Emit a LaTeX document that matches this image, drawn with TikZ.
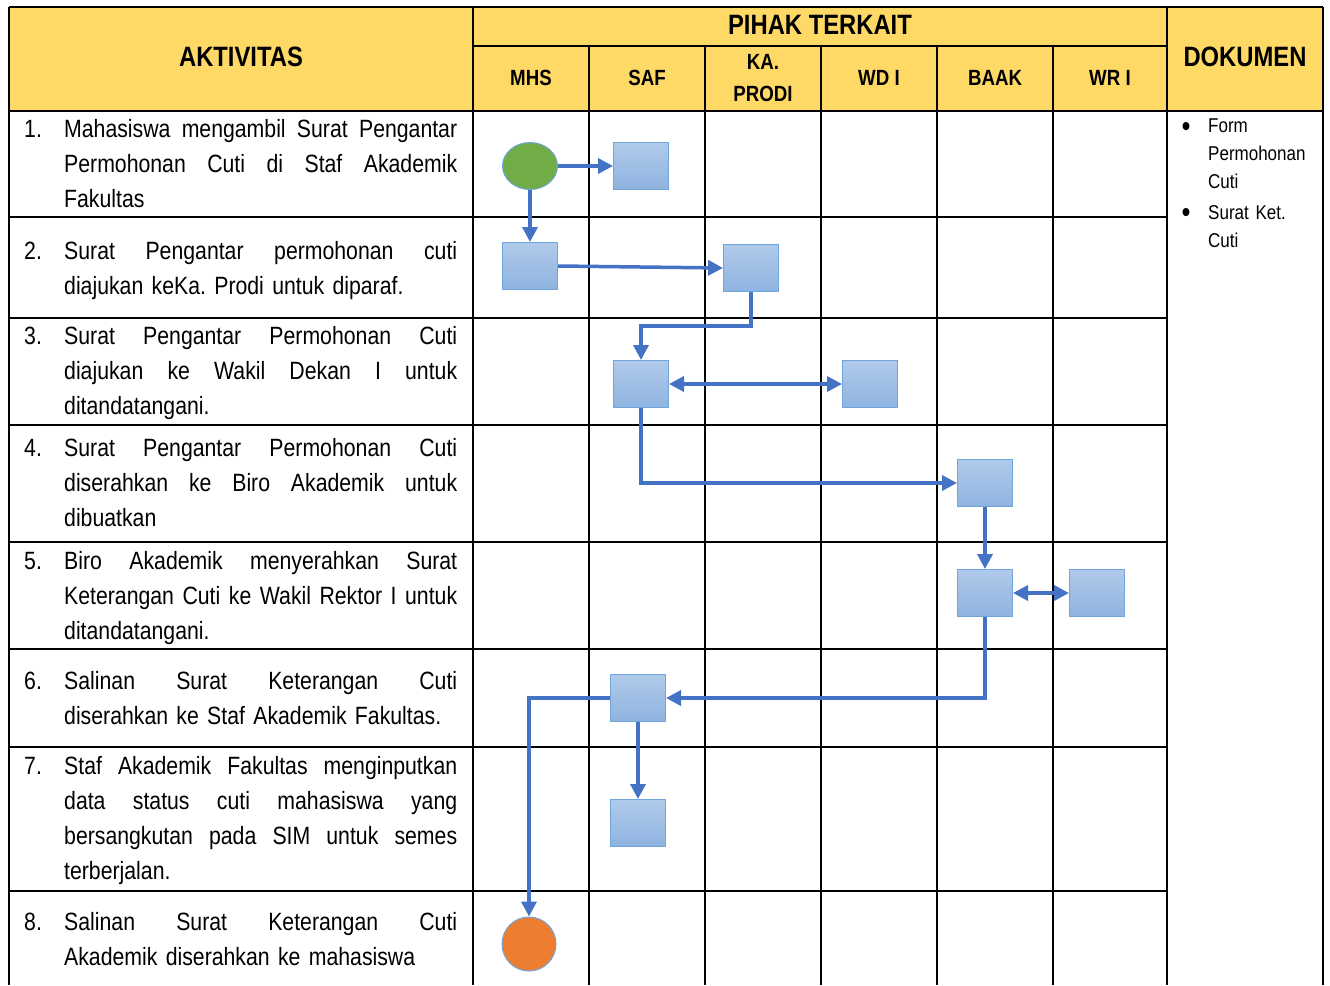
\documentclass[tikz,border=0pt]{standalone}
\usepackage{fontspec}
\setmainfont{Liberation Sans}[FakeStretch=0.85]
\usepackage{xcolor}
\usepackage{tikz}
\usetikzlibrary{positioning, arrows.meta, shapes.geometric}
\hyphenpenalty=10000
\exhyphenpenalty=10000
\definecolor{hdrYellow}{HTML}{FFD966}
\definecolor{flowBlue}{HTML}{4472C4}
\definecolor{boxTop}{HTML}{B0CAEA}
\definecolor{boxBot}{HTML}{8FB3E0}
\definecolor{boxLine}{HTML}{6FA5DC}
\definecolor{startGreen}{HTML}{70AD47}
\definecolor{endOrange}{HTML}{ED7D31}
\newcommand{\fullLine}[1]{\leavevmode\hbox to 393pt{\spaceskip=0.25em plus 1fil\relax #1}}
\tikzstyle{gridLine}=[line width=2.5pt, black]
\tikzstyle{headText}=[font=\bfseries\fontsize{28}{30}\selectfont, inner sep=0pt]
\tikzstyle{colText}=[font=\bfseries\fontsize{22}{32}\selectfont, align=center, inner sep=0pt]
\tikzstyle{stepNum}=[anchor=base west, inner sep=0pt, font=\fontsize{25}{35}\selectfont]
\tikzstyle{stepText}=[anchor=north west, inner sep=0pt, text width=393pt, align=left, font=\fontsize{25}{35}\selectfont]
\tikzstyle{docText}=[anchor=north west, inner sep=0pt, text width=115pt, align=left, font=\fontsize{20}{28}\selectfont]
\tikzstyle{docBullet}=[anchor=base, inner sep=0pt, font=\fontsize{30}{28}\selectfont]
\tikzstyle{procBox}=[rectangle, minimum width=55pt, minimum height=47pt, top color=boxTop, bottom color=boxBot, draw=boxLine, line width=1pt]
\tikzstyle{flowArrow}=[-{Triangle[length=15pt,width=15pt]}, line width=3.5pt, flowBlue]
\tikzstyle{flowBoth}=[{Triangle[length=15pt,width=15pt]}-{Triangle[length=15pt,width=15pt]}, line width=3.5pt, flowBlue]

\begin{document}
\begin{tikzpicture}[x=1pt, y=-1pt]
    \useasboundingbox (0,0) rectangle (1330,985);
    \fill[hdrYellow] (9,7) rectangle (1323,111);

    % table
    \draw[gridLine] (9,7) -- (1323,7);
    \draw[gridLine] (473,46) -- (1167,46);
    \draw[gridLine] (9,111) -- (1323,111);
    \draw[gridLine] (9,7) -- (9,985);
    \draw[gridLine] (473,7) -- (473,985);
    \draw[gridLine] (1167,7) -- (1167,985);
    \draw[gridLine] (1323,7) -- (1323,985);
    \foreach \x in {589,705,821,937,1053}
        \draw[gridLine] (\x,46) -- (\x,985);
    \foreach \y in {217,318,425,542,649,747,891}
        \draw[gridLine] (9,\y) -- (1167,\y);

    % header
    \node[headText] (hAktivitas) at (241,57) {AKTIVITAS};
    \node[headText] (hPihak) at (820,25) {PIHAK TERKAIT};
    \node[headText] (hDokumen) at (1245,57) {DOKUMEN};
    \node[colText] (cMhs) at (531,78) {MHS};
    \node[colText] (cSaf) at (647,78) {SAF};
    \node[colText] (cKaprodi) at (763,78) {KA.\\PRODI};
    \node[colText] (cWd) at (879,78) {WD I};
    \node[colText] (cBaak) at (995,78) {BAAK};
    \node[colText] (cWr) at (1110,78) {WR I};

    % aktivitas
    \node[stepNum] (n1) at (24,137) {1.};
    \node[stepText] (t1) at (64,119) {\fullLine{Mahasiswa mengambil Surat Pengantar}\\\fullLine{Permohonan Cuti di Staf Akademik}\\Fakultas};
    \node[stepNum] (n2) at (24,259) {2.};
    \node[stepText] (t2) at (64,241) {\fullLine{Surat Pengantar permohonan cuti}\\diajukan keKa.\ Prodi untuk diparaf.};
    \node[stepNum] (n3) at (24,344) {3.};
    \node[stepText] (t3) at (64,326) {\fullLine{Surat Pengantar Permohonan Cuti}\\\fullLine{diajukan ke Wakil Dekan I untuk}\\ditandatangani.};
    \node[stepNum] (n4) at (24,456) {4.};
    \node[stepText] (t4) at (64,438) {\fullLine{Surat Pengantar Permohonan Cuti}\\\fullLine{diserahkan ke Biro Akademik untuk}\\dibuatkan};
    \node[stepNum] (n5) at (24,569) {5.};
    \node[stepText] (t5) at (64,551) {\fullLine{Biro Akademik menyerahkan Surat}\\\fullLine{Keterangan Cuti ke Wakil Rektor I untuk}\\ditandatangani.};
    \node[stepNum] (n6) at (24,689) {6.};
    \node[stepText] (t6) at (64,671) {\fullLine{Salinan Surat Keterangan Cuti}\\diserahkan ke Staf Akademik Fakultas.};
    \node[stepNum] (n7) at (24,774) {7.};
    \node[stepText] (t7) at (64,756) {\fullLine{Staf Akademik Fakultas menginputkan}\\\fullLine{data status cuti mahasiswa yang}\\\fullLine{bersangkutan pada SIM untuk semes}\\terberjalan.};
    \node[stepNum] (n8) at (24,930) {8.};
    \node[stepText] (t8) at (64,912) {\fullLine{Salinan Surat Keterangan Cuti}\\Akademik diserahkan ke mahasiswa};

    % dokumen
    \node[docBullet] (b1) at (1186,136) {\textbullet};
    \node[docText] (d1) at (1208,119) {Form\\Permohonan\\Cuti};
    \node[docBullet] (b2) at (1186,222) {\textbullet};
    \node[docText] (d2) at (1208,205) {Surat Ket.\\Cuti};

    % flow
    \node[ellipse, minimum width=55pt, minimum height=47pt, fill=startGreen, draw=boxLine, line width=1pt] (start) at (530,166) {};
    \node[procBox] (boxA) at (641,166) {};
    \node[procBox] (boxB) at (530,266) {};
    \node[procBox] (boxC) at (751,268) {};
    \node[procBox] (boxD) at (641,384) {};
    \node[procBox] (boxE) at (870,384) {};
    \node[procBox] (boxF) at (985,483) {};
    \node[procBox] (boxG) at (985,593) {};
    \node[procBox] (boxH) at (1097,593) {};
    \node[procBox] (boxI) at (638,698) {};
    \node[procBox] (boxJ) at (638,823) {};
    \node[circle, minimum size=54pt, fill=endOrange, draw=boxLine, line width=1pt] (finish) at (529,944) {};
    \coordinate (bendCD) at (751,326);

    \draw[flowArrow] (start.east) -- (boxA.west);
    \draw[flowArrow] (start.south) -- (boxB.north);
    \draw[flowArrow] (boxB.east) -- (boxC.west);
    \draw[flowArrow] (boxC.south) -- (bendCD) -| (boxD.north);
    \draw[flowBoth] (boxD.east) -- (boxE.west);
    \draw[flowArrow] (boxD.south) |- (boxF.west);
    \draw[flowArrow] (boxF.south) -- (boxG.north);
    \draw[flowBoth] (boxG.east) -- (boxH.west);
    \draw[flowArrow] (boxG.south) |- (boxI.east);
    \draw[flowArrow] (boxI.west) -| (finish.north);
    \draw[flowArrow] (boxI.south) -- (boxJ.north);
\end{tikzpicture}
\end{document}
